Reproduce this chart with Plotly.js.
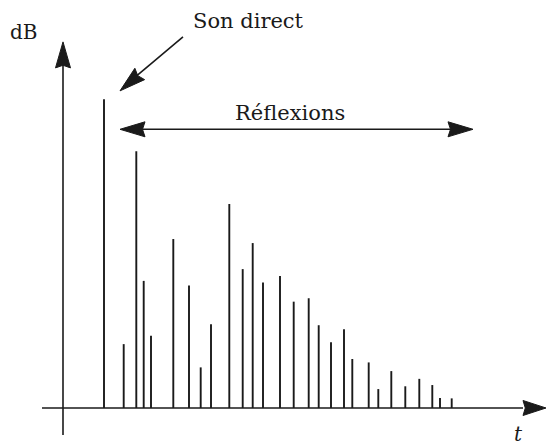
<!DOCTYPE html>
<html>
<head>
<meta charset="utf-8">
<script src="https://cdn.plot.ly/plotly-3.0.1.min.js"></script>
<style>
  html, body { margin: 0; padding: 0; background: #ffffff; }
  #chart { width: 547px; height: 446px; }
</style>
</head>
<body>
<div id="chart"></div>
<script>
// time in ms, level in dB above the floor
const directTimes = [4.1];
const directLevels = [99.6];
const reflectionTimes = [6.07, 7.33, 8.07, 8.8, 11.03, 12.6, 13.77, 14.8, 16.63, 17.97, 18.97, 20.0, 21.7,
  23.07, 24.57, 25.57, 26.8, 28.1, 28.93, 30.57, 31.53, 32.83, 34.23, 35.63, 36.93, 37.7, 38.87];
const reflectionLevels = [20.6, 82.8, 41.0, 23.3, 54.5, 39.5, 13.1, 27.0, 65.8, 44.8, 53.2, 40.5, 42.6,
  34.3, 35.4, 26.7, 21.2, 25.4, 15.8, 14.7, 6.1, 11.9, 7.0, 9.4, 7.4, 3.2, 3.1];

const yLabel = 'dB';
const xLabel = 't';
const directLabel = 'Son direct';
const reflectionLabel = 'Réflexions';

const chart = document.querySelector('#chart');
const ink = '#1a1a1a';
const serif = 'DejaVu Serif, serif';

function stemTrace(times, levels, width) {
  const x = [];
  const y = [];
  times.forEach((t, i) => {
    x.push(t, t, null);
    y.push(0, levels[i], null);
  });
  return {
    type: 'scatter',
    mode: 'lines',
    x,
    y,
    hoverinfo: 'skip',
    showlegend: false,
    line: { color: ink, width }
  };
}

function line(x0, y0, x1, y1) {
  return {
    type: 'line',
    xref: 'x',
    yref: 'y',
    x0,
    y0,
    x1,
    y1,
    layer: 'above',
    line: { color: ink, width: 1.6 }
  };
}

// filled head, sized in pixels, pointing at angle (deg, 0 = right, 90 = up)
function arrowHead(t, level, angle, length, halfWidth) {
  const a = angle * Math.PI / 180;
  const ux = Math.cos(a);
  const uy = Math.sin(a);
  const nx = -uy;
  const ny = ux;
  const p = (along, side) => `${(ux * along + nx * side).toFixed(2)},${(uy * along + ny * side).toFixed(2)}`;
  return {
    type: 'path',
    xref: 'x',
    yref: 'y',
    xsizemode: 'pixel',
    ysizemode: 'pixel',
    xanchor: t,
    yanchor: level,
    path: `M${p(0, 0)} L${p(-length, halfWidth)} L${p(-length * 0.9, 0)} L${p(-length, -halfWidth)} Z`,
    fillcolor: ink,
    layer: 'above',
    line: { color: ink, width: 1 }
  };
}

function label(text, x, y, size) {
  return {
    x,
    y,
    xref: 'x',
    yref: 'y',
    text,
    showarrow: false,
    xanchor: 'center',
    yanchor: 'middle',
    font: { family: serif, size, color: ink }
  };
}

function renderPlot() {
  const data = [
    stemTrace(directTimes, directLevels, 1.9),
    stemTrace(reflectionTimes, reflectionLevels, 1.9)
  ];

  const shapes = [
    line(0, -8.7, 0, 112),
    arrowHead(0, 118.1, 90, 26, 7.5),
    line(-2.1, 0, 46, 0),
    arrowHead(48.3, 0, 0, 23, 7.5),
    line(6.5, 89.9, 40.2, 89.9),
    arrowHead(5.7, 89.9, 180, 25, 7.5),
    arrowHead(41.0, 89.9, 0, 25, 7.5),
    line(12.0, 119.7, 6.2, 104.0),
    arrowHead(5.7, 102.3, 220.6, 26, 7.5)
  ];

  const annotations = [
    label(yLabel, -3.9, 121.4, 20),
    label(`<i>${xLabel}</i>`, 45.5, -8.4, 20),
    label(directLabel, 18.5, 124.8, 21),
    label(reflectionLabel, 22.65, 95.0, 21)
  ];

  const layout = {
    width: 547,
    height: 446,
    margin: { l: 0, r: 0, t: 0, b: 0 },
    paper_bgcolor: '#ffffff',
    plot_bgcolor: '#ffffff',
    showlegend: false,
    xaxis: {
      range: [-6.3, 48.4],
      visible: false,
      fixedrange: true
    },
    yaxis: {
      range: [-12.26, 131.61],
      visible: false,
      fixedrange: true
    },
    shapes,
    annotations
  };

  Plotly.newPlot(chart, data, layout, { displayModeBar: false, staticPlot: true });
}

renderPlot();
</script>
</body>
</html>
